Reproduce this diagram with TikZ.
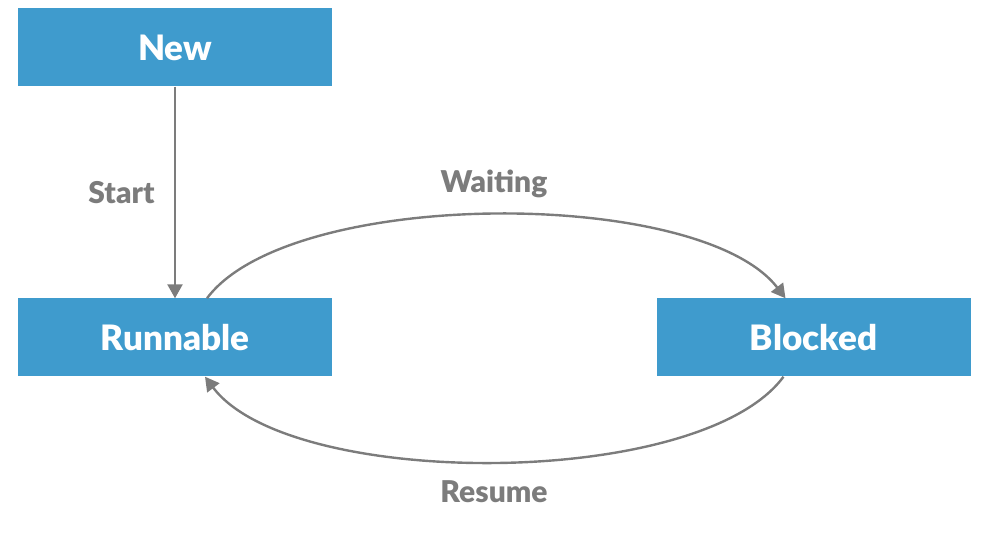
\documentclass[tikz,border=0pt]{standalone}
\usepackage{fontspec}
\setmainfont{Lato}[BoldFont={Lato Black}]
\usetikzlibrary{arrows.meta}
\definecolor{boxblue}{HTML}{3F9BCD}
\definecolor{linegray}{HTML}{7C7C7C}
\begin{document}
\begin{tikzpicture}
	[x=1pt, y=-1pt,
	state/.style = {draw=none, fill=boxblue, minimum width=314pt, minimum height=78pt, inner sep=0pt, text=white, font=\fontsize{35}{40}\selectfont\bfseries},
	trans/.style = {draw=linegray, line width=2.4pt, -{Triangle[width=15pt,length=14pt]}},
	lbl/.style = {text=linegray, font=\fontsize{30}{34}\selectfont\bfseries}]
\useasboundingbox (0,0) rectangle (999,545);
\node[state] (new) at (175,47.5) {New};
\node[state] (run) at (175,337.5) {Runnable};
\node[state] (blk) at (813.5,337.5) {Blocked};
\draw[trans] (new) -- node[lbl, left=16pt, pos=0.5] (start) {Start} (run);
\draw[trans] ([xshift=32pt]run.north) .. controls (290,187) and (700,187) .. ([xshift=-28pt]blk.north);
\draw[trans] ([xshift=-30pt]blk.south) .. controls (700,490) and (290,490) .. ([xshift=30pt]run.south);
\node[lbl] (wait) at (494,184) {Waiting};
\node[lbl] (res) at (494,492) {Resume};
\end{tikzpicture}
\end{document}
